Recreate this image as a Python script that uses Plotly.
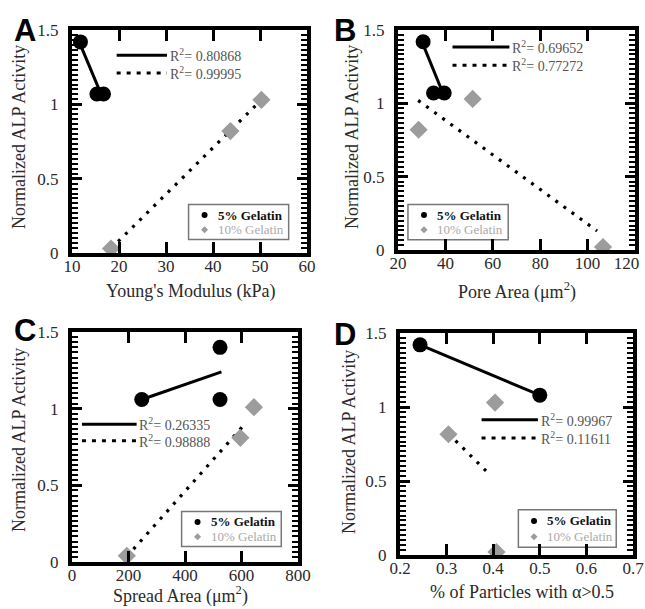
import plotly.graph_objects as go

# ---------------- data ----------------
A_x5 = [11.8, 15.3, 16.7]
A_y5 = [1.42, 1.07, 1.07]
A_x10 = [18.3, 43.7, 50.3]
A_y10 = [0.03, 0.82, 1.03]
A_fit5_x = [11.8, 16.7]
A_fit5_y = [1.40, 1.03]
A_fit10_x = [18.3, 50.3]
A_fit10_y = [0.03, 1.03]
A_r2 = ["0.80868", "0.99995"]

B_x5 = [30.6, 35.0, 39.5]
B_y5 = [1.42, 1.07, 1.07]
B_x10 = [28.7, 51.5, 106.5]
B_y10 = [0.82, 1.03, 0.02]
B_fit5_x = [30.6, 39.7]
B_fit5_y = [1.40, 1.04]
B_fit10_x = [28.5, 104.0]
B_fit10_y = [1.02, 0.13]
B_r2 = ["0.69652", "0.77272"]

C_x5 = [247, 524, 524]
C_y5 = [1.06, 1.40, 1.06]
C_x10 = [194, 596, 644]
C_y10 = [0.04, 0.81, 1.01]
C_fit5_x = [247, 529]
C_fit5_y = [1.06, 1.24]
C_fit10_x = [194, 612]
C_fit10_y = [0.035, 0.90]
C_r2 = ["0.26335", "0.98888"]

D_x5 = [0.243, 0.5]
D_y5 = [1.42, 1.08]
D_x10 = [0.304, 0.404, 0.407]
D_y10 = [0.816, 1.03, 0.02]
D_fit5_x = [0.243, 0.5]
D_fit5_y = [1.42, 1.08]
D_fit10_x = [0.304, 0.392]
D_fit10_y = [0.82, 0.545]
D_r2 = ["0.99967", "0.11611"]

y_ticks = [0, 0.5, 1, 1.5]
y_ticktext = ["0", "0.5", "1", "1.5"]
A_xticks = [10, 20, 30, 40, 50, 60]
A_xticktext = ["10", "20", "30", "40", "50", "60"]
B_xticks = [20, 40, 60, 80, 100, 120]
B_xticktext = ["20", "40", "60", "80", "100", "120\u00a0\u00a0\u00a0\u00a0"]
C_xticks = [0, 200, 400, 600, 800]
C_xticktext = ["0", "200", "400", "600", "800"]
D_xticks = [0.2, 0.3, 0.4, 0.5, 0.6, 0.7]
D_xticktext = ["0.2", "0.3", "0.4", "0.5", "0.6", "0.7"]
y_title = "Normalized ALP Activity"

panels = [
    dict(letter="A", x5=A_x5, y5=A_y5, x10=A_x10, y10=A_y10,
         f5x=A_fit5_x, f5y=A_fit5_y, f10x=A_fit10_x, f10y=A_fit10_y, r2=A_r2,
         xr=[10, 60], xt=A_xticks, xtt=A_xticktext, xtitle="Young's Modulus (kPa)",
         xdom=[72/645, 307/645], ydom=[1-253/609, 1-30/609],
         r2pos=(0.19, 0.404, 0.887, 0.807), box=(0.496, 0.922, 0.06, 0.217),
         lpos=(12, 11), xtpos=(190, 291), ytpos=(19, 137)),
    dict(letter="B", x5=B_x5, y5=B_y5, x10=B_x10, y10=B_y10,
         f5x=B_fit5_x, f5y=B_fit5_y, f10x=B_fit10_x, f10y=B_fit10_y, r2=B_r2,
         xr=[20, 120], xt=B_xticks, xtt=B_xticktext, xtitle="Pore Area (\u03bcm<sup>2</sup>)",
         xdom=[398/645, 635/645], ydom=[1-250/609, 1-30/609],
         r2pos=(0.23, 0.47, 0.923, 0.84), box=(0.042, 0.465, 0.047, 0.207),
         lpos=(332, 11), xtpos=(517, 291), ytpos=(352, 137)),
    dict(letter="C", x5=C_x5, y5=C_y5, x10=C_x10, y10=C_y10,
         f5x=C_fit5_x, f5y=C_fit5_y, f10x=C_fit10_x, f10y=C_fit10_y, r2=C_r2,
         xr=[0, 800], xt=C_xticks, xtt=C_xticktext, xtitle="Spread Area (\u03bcm<sup>2</sup>)",
         xdom=[72/645, 298/645], ydom=[1-562/609, 1-332/609],
         r2pos=(0.044, 0.286, 0.599, 0.527), box=(0.485, 0.926, 0.067, 0.22),
         lpos=(12, 311), xtpos=(180, 595), ytpos=(19, 440)),
    dict(letter="D", x5=D_x5, y5=D_y5, x10=D_x10, y10=D_y10,
         f5x=D_fit5_x, f5y=D_fit5_y, f10x=D_fit10_x, f10y=D_fit10_y, r2=D_r2,
         xr=[0.2, 0.7], xt=D_xticks, xtt=D_xticktext, xtitle="% of Particles with \u03b1>0.5",
         xdom=[400/645, 633/645], ydom=[1-555/609, 1-333/609],
         r2pos=(0.35, 0.592, 0.609, 0.527), box=(0.508, 0.928, 0.035, 0.204),
         lpos=(332, 315), xtpos=(522, 592), ytpos=(349, 442)),
]

SERIF = "Liberation Serif, Times New Roman, serif"
TXT = "#2a2a2a"
GRAY = "#9c9c9c"
fig = go.Figure()
shapes = []
annotations = []

for i, p in enumerate(panels):
    n = "" if i == 0 else str(i + 1)
    xa, ya = "x" + n, "y" + n
    fig.add_trace(go.Scatter(x=p["f10x"], y=p["f10y"], mode="lines", xaxis=xa, yaxis=ya,
                             line=dict(color="black", width=3.2, dash="3px,7px"),
                             showlegend=False, hoverinfo="skip"))
    fig.add_trace(go.Scatter(x=p["f5x"], y=p["f5y"], mode="lines", xaxis=xa, yaxis=ya,
                             line=dict(color="black", width=3), showlegend=False, hoverinfo="skip"))
    fig.add_trace(go.Scatter(x=p["x10"], y=p["y10"], mode="markers", xaxis=xa, yaxis=ya,
                             marker=dict(symbol="diamond", size=14, color=GRAY),
                             name="10% Gelatin", showlegend=False))
    fig.add_trace(go.Scatter(x=p["x5"], y=p["y5"], mode="markers", xaxis=xa, yaxis=ya,
                             marker=dict(symbol="circle", size=15, color="black"),
                             name="5% Gelatin", showlegend=False))

    axis_common = dict(showline=True, linewidth=4, linecolor="black", mirror="allticks",
                       ticks="inside", tickwidth=3, tickcolor="black", showgrid=False,
                       zeroline=False, automargin=False, ticklabeloverflow="allow",
                       tickfont=dict(family=SERIF, size=17, color=TXT))
    fig.update_layout(**{
        "xaxis" + n: dict(domain=p["xdom"], range=p["xr"], tickvals=p["xt"],
                          ticktext=p["xtt"], ticklen=11,
                          anchor=ya, ticklabelstandoff=-5, **axis_common),
        "yaxis" + n: dict(domain=p["ydom"], range=[0, 1.5], tickvals=y_ticks, ticktext=y_ticktext,
                          ticklen=10, anchor=xa, ticklabelstandoff=6,
                          minor=dict(ticks="inside", ticklen=6, tickwidth=2, tickcolor="black",
                                     dtick=1/30, tick0=0, showgrid=False),
                          **axis_common),
    })

    # axis titles
    tx, ty = p["xtpos"]
    annotations.append(dict(xref="paper", yref="paper", x=tx / 645, y=1 - ty / 609,
                            xanchor="center", yanchor="middle", showarrow=False,
                            text=p["xtitle"], font=dict(family=SERIF, size=18, color=TXT)))
    vx, vy = p["ytpos"]
    annotations.append(dict(xref="paper", yref="paper", x=vx / 645, y=1 - vy / 609,
                            xanchor="center", yanchor="middle", showarrow=False, textangle=-90,
                            text=y_title, font=dict(family=SERIF, size=18, color=TXT)))

    xd, yd = xa + " domain", ya + " domain"
    sx0, sx1, sy1, sy2 = p["r2pos"]
    shapes.append(dict(type="line", xref=xd, yref=yd, x0=sx0, x1=sx1, y0=sy1, y1=sy1,
                       line=dict(color="black", width=3)))
    shapes.append(dict(type="line", xref=xd, yref=yd, x0=sx0, x1=sx1, y0=sy2, y1=sy2,
                       line=dict(color="black", width=3, dash="4px,6px")))
    for yy, r in zip((sy1, sy2), p["r2"]):
        annotations.append(dict(xref=xd, yref=yd, x=sx1 + 0.003, y=yy, xanchor="left",
                                yanchor="middle", showarrow=False,
                                text="R<sup>2</sup>= " + r,
                                font=dict(family=SERIF, size=14, color="#555")))
    bx0, bx1, by0, by1 = p["box"]
    shapes.append(dict(type="rect", xref=xd, yref=yd, x0=bx0, x1=bx1, y0=by0, y1=by1,
                       line=dict(color="#777", width=1.5), fillcolor="white", layer="below"))
    bw = bx1 - bx0
    bh = by1 - by0
    mx = bx0 + 0.16 * bw
    yr1 = by0 + 0.70 * bh
    yr2 = by0 + 0.28 * bh
    shapes.append(dict(type="circle", xref=xd, yref=yd, xsizemode="pixel", ysizemode="pixel",
                       xanchor=mx, yanchor=yr1, x0=-3, x1=3, y0=-3, y1=3,
                       fillcolor="black", line=dict(width=0)))
    shapes.append(dict(type="path", xref=xd, yref=yd, xsizemode="pixel", ysizemode="pixel",
                       xanchor=mx, yanchor=yr2, path="M 0 -3.5 L 3.5 0 L 0 3.5 L -3.5 0 Z",
                       fillcolor=GRAY, line=dict(width=0)))
    annotations.append(dict(xref=xd, yref=yd, x=bx0 + 0.27 * bw, y=yr1, xanchor="left",
                            yanchor="middle", showarrow=False, text="<b>5% Gelatin</b>",
                            font=dict(family=SERIF, size=13, color="#111")))
    annotations.append(dict(xref=xd, yref=yd, x=bx0 + 0.27 * bw, y=yr2, xanchor="left",
                            yanchor="middle", showarrow=False, text="10% Gelatin",
                            font=dict(family=SERIF, size=13, color="#aaa")))
    lx, ly = p["lpos"]
    annotations.append(dict(xref="paper", yref="paper", x=lx / 645, y=1 - ly / 609,
                            xanchor="left", yanchor="top", showarrow=False,
                            text="<b>" + p["letter"] + "</b>",
                            font=dict(family="Liberation Sans, Arial, sans-serif", size=31,
                                      color="black")))

fig.update_layout(width=645, height=609, margin=dict(l=0, r=0, t=0, b=0, autoexpand=False),
                  paper_bgcolor="white", plot_bgcolor="rgba(0,0,0,0)",
                  font=dict(family=SERIF, color=TXT),
                  shapes=shapes, annotations=annotations, showlegend=False)
fig.write_html("out.html", config={"displayModeBar": False},
               post_script="document.body.style.margin='0';document.body.style.overflow='hidden';")
